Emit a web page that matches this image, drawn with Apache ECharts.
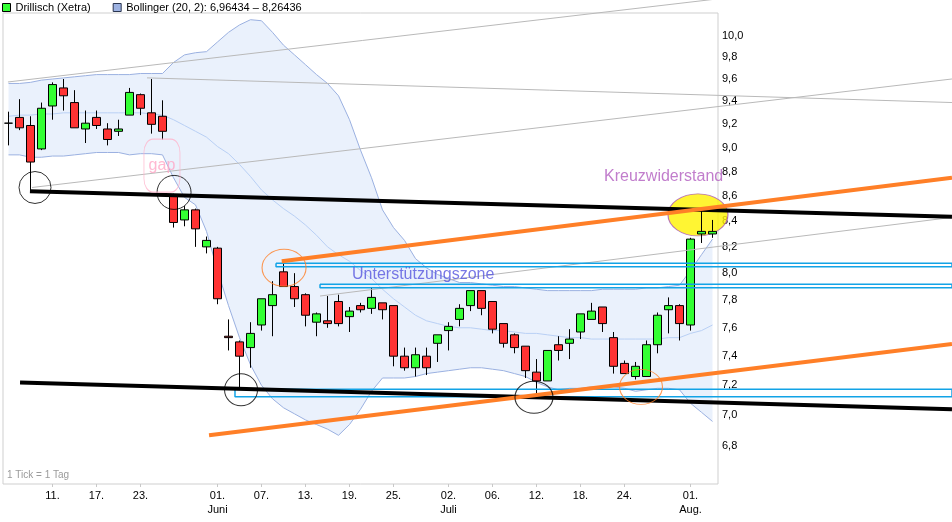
<!DOCTYPE html>
<html><head><meta charset="utf-8">
<script src="https://cdn.jsdelivr.net/npm/echarts@6/dist/echarts.min.js"></script>
<style>html,body{margin:0;padding:0;background:#fff}#c{width:952px;height:522px}</style>
</head><body><div id="c"></div>
<script>
// ---- trading days (May 7 – Aug 3) ----
const categories = ['07.05.','08.05.','09.05.','10.05.','11.05.','14.05.','15.05.','16.05.','17.05.','18.05.',
 '21.05.','22.05.','23.05.','24.05.','25.05.','28.05.','29.05.','30.05.','31.05.','01.06.',
 '04.06.','05.06.','06.06.','07.06.','08.06.','11.06.','12.06.','13.06.','14.06.','15.06.',
 '18.06.','19.06.','20.06.','21.06.','22.06.','25.06.','26.06.','27.06.','28.06.','29.06.',
 '02.07.','03.07.','04.07.','05.07.','06.07.','09.07.','10.07.','11.07.','12.07.','13.07.',
 '16.07.','17.07.','18.07.','19.07.','20.07.','23.07.','24.07.','25.07.','26.07.','27.07.',
 '30.07.','31.07.','01.08.','02.08.','03.08.'];
const xTickIdx = [4,8,12,19,23,27,31,35,40,44,48,52,56,62];
const xTickLabels = ['11.','17.','23.','01.\nJuni','07.','13.','19.','25.','02.\nJuli','06.','12.','18.','24.','01.\nAug.'];
const yTicks = [6.8,7.0,7.2,7.4,7.6,7.8,8.0,8.2,8.4,8.6,8.8,9.0,9.2,9.4,9.6,9.8,10.0];

// ---- candles ----
const opens  = [9.21,9.26,9.19,8.99,9.36,9.52,9.39,9.16,9.26,9.16,9.14,9.28,9.46,9.30,9.27,
 8.61,8.41,8.49,8.20,8.19,7.54,7.50,7.46,7.62,7.76,8.01,7.90,7.84,7.64,7.65,
 7.79,7.68,7.76,7.74,7.78,7.76,7.40,7.32,7.40,7.49,7.58,7.66,7.76,7.87,7.79,
 7.63,7.55,7.47,7.29,7.23,7.48,7.49,7.57,7.66,7.75,7.53,7.35,7.26,7.26,7.48,
 7.73,7.76,7.62,8.30,8.30];
const closes = [9.21,9.17,8.88,9.34,9.55,9.45,9.17,9.21,9.19,9.07,9.16,9.48,9.34,9.20,9.14,
 8.39,8.49,8.34,8.25,7.81,7.53,7.40,7.56,7.81,7.84,7.90,7.81,7.69,7.70,7.63,
 7.63,7.72,7.73,7.82,7.73,7.40,7.32,7.41,7.32,7.55,7.61,7.74,7.87,7.74,7.59,
 7.49,7.46,7.30,7.23,7.44,7.44,7.52,7.70,7.72,7.63,7.33,7.28,7.33,7.48,7.69,
 7.76,7.63,8.26,8.32,8.32];
const lows   = [9.02,9.15,8.65,8.98,9.24,9.32,9.17,9.04,9.16,9.02,9.10,9.28,9.28,9.12,9.07,
 8.35,8.36,8.20,8.15,7.77,7.44,7.17,7.32,7.58,7.54,7.90,7.75,7.61,7.54,7.60,
 7.61,7.57,7.71,7.70,7.66,7.33,7.30,7.26,7.27,7.36,7.44,7.61,7.72,7.69,7.56,
 7.46,7.42,7.25,7.14,7.23,7.37,7.38,7.52,7.66,7.57,7.28,7.28,7.24,7.26,7.42,
 7.56,7.51,7.58,8.23,8.27];
const highs  = [9.31,9.42,9.27,9.39,9.57,9.60,9.50,9.32,9.32,9.21,9.24,9.52,9.47,9.60,9.41,
 8.62,8.52,8.50,8.28,8.20,7.66,7.51,7.64,7.81,7.94,8.07,8.00,7.85,7.71,7.83,
 7.84,7.75,7.78,7.89,7.78,7.76,7.46,7.46,7.46,7.55,7.64,7.77,7.87,7.87,7.79,
 7.63,7.56,7.47,7.38,7.44,7.54,7.59,7.70,7.78,7.75,7.57,7.37,7.36,7.51,7.71,
 7.82,7.77,8.27,8.48,8.41];

// ---- Bollinger (20, 2) ----
const bollUpper = [9.56,9.56,9.57,9.59,9.60,9.61,9.62,9.63,9.64,9.64,9.64,9.64,9.65,9.65,9.65,
 9.75,9.82,9.84,9.85,9.94,10.03,10.10,10.15,10.14,10.03,9.91,9.82,9.73,9.64,9.56,
 9.45,9.24,8.98,8.75,8.49,8.35,8.25,8.11,8.04,7.99,7.96,7.93,7.93,7.92,7.91,
 7.90,7.90,7.89,7.88,7.87,7.87,7.87,7.87,7.87,7.88,7.88,7.88,7.88,7.89,7.89,
 7.90,7.91,8.02,8.14,8.26];
const bollMiddle = [9.27,9.28,9.28,9.29,9.29,9.30,9.30,9.30,9.30,9.30,9.30,9.30,9.30,9.29,9.28,
 9.24,9.19,9.14,9.09,9.01,8.95,8.86,8.76,8.65,8.57,8.50,8.44,8.37,8.29,8.20,
 8.14,8.09,8.02,7.96,7.88,7.81,7.75,7.69,7.65,7.63,7.61,7.60,7.60,7.59,7.58,
 7.58,7.57,7.56,7.56,7.55,7.54,7.53,7.53,7.52,7.52,7.52,7.52,7.52,7.52,7.52,
 7.53,7.53,7.56,7.58,7.62];
const bollLower = [8.94,8.94,8.92,8.92,8.93,8.93,8.94,8.95,8.96,8.96,8.96,8.94,8.95,8.95,8.94,
 8.75,8.59,8.53,8.32,8.02,7.76,7.53,7.34,7.20,7.11,7.05,7.01,6.97,6.94,6.91,
 6.87,6.94,7.04,7.16,7.25,7.25,7.25,7.26,7.28,7.29,7.30,7.31,7.32,7.32,7.31,
 7.30,7.28,7.26,7.22,7.19,7.17,7.18,7.18,7.19,7.19,7.19,7.18,7.16,7.17,7.18,
 7.18,7.17,7.08,7.02,6.96];

// ---- drawn trend lines: [dayIndex, price] ----
const blackUpperLine  = [[1.95, 8.64], [85.77, 8.435]];
const blackLowerLine  = [[1.05, 7.22], [85.77, 7.04]];
const orangeUpperLine = [[24.84, 8.09], [85.77, 8.75]];
const orangeLowerLine = [[18.23, 6.87], [85.77, 7.485]];
const greyLines = [
  [[-0.05, 9.573], [85.77, 10.62]],
  [[2.14, 8.67], [85.77, 9.60]],
  [[12.59, 9.61], [85.77, 9.39]],
  [[28.32, 7.83], [85.77, 8.43]]
];
// support zones: [startIndex, topPrice, bottomPrice]
const zones = [[24.32, 8.074, 8.049], [28.32, 7.917, 7.891], [20.59, 7.174, 7.124]];
// markers: [index, price, w, h]
const blackRings  = [[2.41, 8.67, 32, 32], [15.05, 8.63, 34, 34], [21.14, 7.17, 33, 32], [47.77, 7.12, 38, 32]];
const orangeRings = [[25.05, 8.04, 44, 37], [57.5, 7.19, 43, 35]];
const yellowSpot  = [62.68, 8.45, 60, 42];
const gapBox      = [13.95, 8.85, 36, 53];
const notes = [['Unterstützungszone', 31.23, 7.99, '#5656df'], ['Kreuzwiderstand', 54.14, 8.76, '#b15dbf']];

const bollName = 'Bollinger (20, 2): 6,96434 – 8,26436';
const Y_MIN = 6.563, Y_MAX = 10.214, Y_MAX_FULL = 10.339;
const X_MAX = 949 / 11 - 0.5;
const FONT = 'Liberation Sans, Arial, sans-serif';

const chart = echarts.init(document.getElementById('c'));
const over = {xAxisIndex: 1, yAxisIndex: 1, silent: true, animation: false};
function seg(pts, color, width, z) {
  return Object.assign({type: 'line', data: pts, symbol: 'none', lineStyle: {color, width}, z}, over);
}
const series = [
  {type: 'line', name: 'lower', data: bollLower, stack: 'boll', symbol: 'none', silent: true,
   lineStyle: {color: '#9bb1e1', width: 1}, z: 1},
  {type: 'line', name: bollName, data: bollUpper.map((u, i) => +(u - bollLower[i]).toFixed(4)), stack: 'boll', symbol: 'none', silent: true,
   lineStyle: {color: '#9bb1e1', width: 1}, areaStyle: {color: '#eaf1fc', opacity: 1}, z: 1},
  {type: 'line', name: 'middle', data: bollMiddle, symbol: 'none', silent: true,
   lineStyle: {color: '#b9d0f5', width: 1}, z: 1},
  {type: 'candlestick', name: 'Drillisch (Xetra)', barWidth: 9, z: 3,
   data: opens.map((o, i) => [o, closes[i], lows[i], highs[i]]),
   itemStyle: {color: '#33ff33', color0: '#ff3333', borderColor: '#000', borderColor0: '#000', borderWidth: 1}},
  Object.assign({type: 'scatter', z: 2, data: [{value: [yellowSpot[0], yellowSpot[1]], symbolSize: [yellowSpot[2], yellowSpot[3]]}],
   itemStyle: {color: '#fff200', borderColor: '#a855b5', borderWidth: 1}}, over)
];
greyLines.forEach(g => series.push(seg(g, '#b9b9b9', 1, 4)));
zones.forEach(zn => series.push(seg([[zn[0], zn[1]], [X_MAX, zn[1]], [X_MAX, zn[2]], [zn[0], zn[2]], [zn[0], zn[1]]], '#12a3e6', 1.5, 5)));
series.push(seg(blackUpperLine, '#000', 4, 6));
series.push(seg(blackLowerLine, '#000', 4, 6));
series.push(seg(orangeUpperLine, '#ff7f27', 4, 6));
series.push(seg(orangeLowerLine, '#ff7f27', 4, 6));
series.push(Object.assign({type: 'scatter', z: 7, data: blackRings.map(r => ({value: [r[0], r[1]], symbolSize: [r[2], r[3]]})),
  itemStyle: {color: 'rgba(0,0,0,0)', borderColor: '#000', borderWidth: 1}}, over));
series.push(Object.assign({type: 'scatter', z: 7, data: orangeRings.map(r => ({value: [r[0], r[1]], symbolSize: [r[2], r[3]]})),
  itemStyle: {color: 'rgba(0,0,0,0)', borderColor: '#ff7f27', borderWidth: 1}}, over));
series.push(Object.assign({type: 'scatter', z: 7, symbol: 'roundRect',
  data: [{value: [gapBox[0], gapBox[1]], symbolSize: [gapBox[2], gapBox[3]]}],
  itemStyle: {color: 'rgba(0,0,0,0)', borderColor: '#ffb3cb', borderWidth: 1},
  label: {show: true, formatter: 'gap', position: 'inside', color: '#ffa6c6', fontSize: 16, fontFamily: FONT}}, over));
notes.forEach(n => series.push(Object.assign({type: 'scatter', z: 8, symbolSize: 0,
  data: [[n[1], n[2]]],
  label: {show: true, formatter: n[0], position: 'right', distance: 0, color: n[3], fontSize: 16, fontFamily: FONT}}, over)));

chart.setOption({
  animation: false,
  backgroundColor: '#fff',
  textStyle: {fontFamily: FONT},
  legend: {left: 2, top: 2, padding: 0, itemWidth: 8, itemHeight: 8, itemGap: 22, selectedMode: false,
    textStyle: {fontSize: 11, color: '#000', fontFamily: FONT},
    data: [
      {name: 'Drillisch (Xetra)', icon: 'rect', itemStyle: {color: '#33ff33', borderColor: '#000', borderWidth: 1}},
      {name: bollName, icon: 'rect', itemStyle: {color: '#9db2e2', borderColor: '#2a3550', borderWidth: 1}, lineStyle: {opacity: 0}}
    ]},
  grid: [
    {left: 3, top: 13, width: 715, height: 471, show: true, borderColor: '#cfcfcf', borderWidth: 1},
    {left: 3, top: 0, width: 949, height: 484, show: false}
  ],
  xAxis: [
    {type: 'category', gridIndex: 0, data: categories, boundaryGap: true,
     axisLine: {show: false},
     axisTick: {show: true, alignWithLabel: true, length: 3, interval: i => xTickIdx.includes(i), lineStyle: {color: '#c8c8c8'}},
     axisLabel: {interval: i => xTickIdx.includes(i), formatter: (v, i) => xTickLabels[xTickIdx.indexOf(i)],
       fontSize: 11, color: '#000', lineHeight: 14, margin: 5, fontFamily: FONT},
     splitLine: {show: false}},
    {type: 'value', gridIndex: 1, min: -0.5, max: X_MAX, show: false}
  ],
  yAxis: [
    {type: 'log', logBase: 10, gridIndex: 0, min: Y_MIN, max: Y_MAX, position: 'right',
     axisLine: {show: false}, axisTick: {show: false}, splitLine: {show: false}, minorTick: {show: false},
     axisLabel: {customValues: yTicks, formatter: v => Number(v).toFixed(1).replace('.', ','), fontSize: 11, color: '#000', margin: 4, fontFamily: FONT}},
    {type: 'log', logBase: 10, gridIndex: 1, min: Y_MIN, max: Y_MAX_FULL, show: false}
  ],
  graphic: [{type: 'text', left: 7, top: 470, style: {text: '1 Tick = 1 Tag', fill: '#9a9a9a', fontSize: 10, fontFamily: FONT}}],
  series
});
</script></body></html>
